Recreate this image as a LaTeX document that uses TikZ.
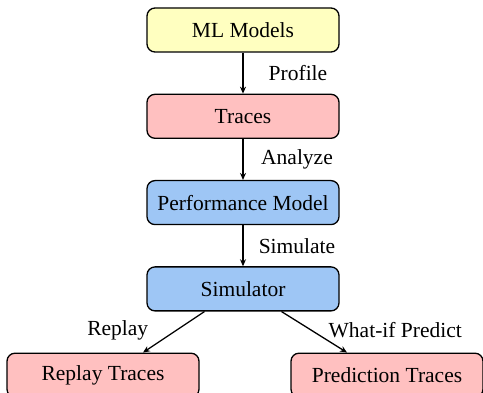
\documentclass[tikz,border=0pt]{standalone}
\usepackage{fontspec}
\setmainfont{Liberation Serif}
\usetikzlibrary{positioning,arrows.meta,calc}
\definecolor{boxyellow}{RGB}{255,255,192}
\definecolor{boxpink}{RGB}{255,192,192}
\definecolor{boxblue}{RGB}{158,198,245}
\tikzset{
  >={Stealth[length=7pt,width=6pt]},
}

\begin{document}
\begin{tikzpicture}[
  x=1pt,y=1pt,
  ->,line width=1.3pt,
  node distance=41pt,
  box/.style={draw, rounded corners=8pt, minimum width=192pt, minimum height=44pt, inner sep=0pt, font=\fontsize{21.5}{25}\selectfont},
  lbl/.style={font=\fontsize{21.5}{25}\selectfont},
]
\useasboundingbox (0,0) rectangle (483,-393);

\node[box, fill=boxyellow] (models) at (243,-30) {ML Models};
\node[box, fill=boxpink, below=of models] (traces) {Traces};
\node[box, fill=boxblue, below=of traces] (perf) {Performance Model};
\node[box, fill=boxblue, below=of perf] (sim) {Simulator};
\node[box, fill=boxpink, below=of sim, xshift=-140pt] (replay) {Replay Traces};
\node[box, fill=boxpink, below=of sim, xshift=144pt] (predict) {Prediction Traces};

\path
(models) edge node[lbl, xshift=55pt] {Profile} (traces)
(traces) edge node[lbl, xshift=54pt] {Analyze} (perf)
(perf) edge node[lbl, xshift=54pt] {Simulate} (sim);

\draw ($(sim.south)+(-38.5,0)$) -- node[lbl, xshift=-56pt, yshift=2pt] {Replay} ($(replay.north)+(40,0)$);
\draw ($(sim.south)+(38.5,0)$) -- node[lbl, xshift=81pt, yshift=2pt] {What-if Predict} ($(predict.north)+(-40,0)$);
\end{tikzpicture}
\end{document}
